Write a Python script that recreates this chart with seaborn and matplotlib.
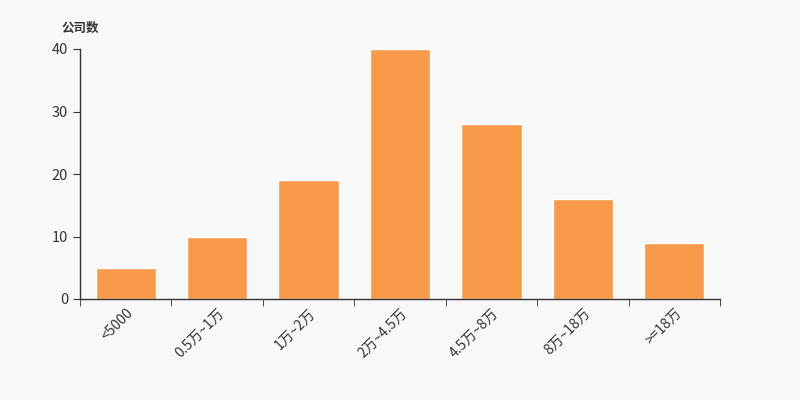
import matplotlib
matplotlib.use("Agg")
import matplotlib.pyplot as plt
import seaborn as sns
import numpy as np

categories = ["<5000", "0.5万~1万", "1万~2万", "2万~4.5万", "4.5万~8万", "8万~18万", ">=18万"]
counts = [5, 10, 19, 40, 28, 16, 9]

sns.set_style("white")
plt.rcParams['font.family'] = ['Noto Sans CJK SC', 'DejaVu Sans']

fig = plt.figure(figsize=(8, 4), dpi=100, facecolor="#f8f8f8")
ax = fig.add_axes([0.1, 0.2525, 0.8, 0.625])
ax.set_facecolor("#f8f8f8")

sns.barplot(x=categories, y=counts, color="#f89a4a", saturation=1, width=0.66, ax=ax)

ax.set_xlim(-0.5, len(categories) - 0.5)
ax.set_ylim(0, 40)
ax.set_yticks([0, 10, 20, 30, 40])

for s in ["top", "right"]:
    ax.spines[s].set_visible(False)
for s in ["left", "bottom"]:
    ax.spines[s].set_color("#333333")
    ax.spines[s].set_linewidth(1)

ax.set_xticks(np.arange(len(categories)))
ax.set_xticklabels(categories, rotation=45, ha="right", rotation_mode="anchor", fontsize=10, color="#333333")
ax.tick_params(axis="x", which="major", length=0, pad=5)
ax.set_xticks(np.arange(-0.5, len(categories)), minor=True)
ax.tick_params(axis="x", which="minor", length=5, color="#333333", bottom=True)
ax.tick_params(axis="y", length=5, color="#333333", labelsize=10.5, labelcolor="#333333", left=True)
ax.set_xlabel("")
ax.set_ylabel("")

fig.text(0.0775, 0.93, "公司数", fontsize=9, fontweight="bold", color="#333333", va="center")

fig.savefig("out.png", dpi=100, facecolor=fig.get_facecolor())
